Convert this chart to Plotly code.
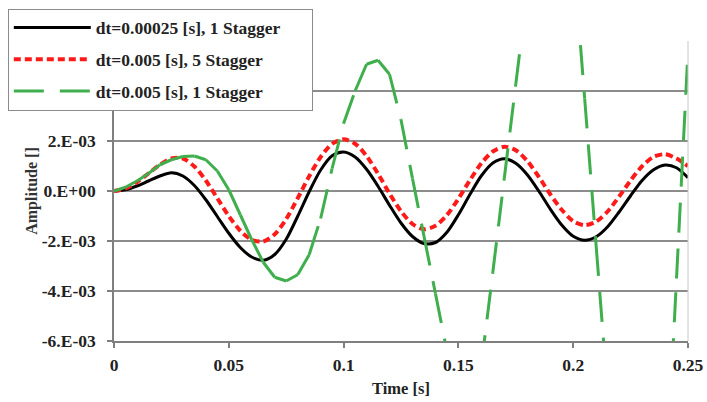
import plotly.graph_objects as go

# ---------------- data ----------------
time_s = [0.000, 0.005, 0.010, 0.015, 0.020, 0.025, 0.030, 0.035, 0.040, 0.045,
          0.050, 0.055, 0.060, 0.065, 0.070, 0.075, 0.080, 0.085, 0.090, 0.095,
          0.100, 0.105, 0.110, 0.115, 0.120, 0.125, 0.130, 0.135, 0.140, 0.145,
          0.150, 0.155, 0.160, 0.165, 0.170, 0.175, 0.180, 0.185, 0.190, 0.195,
          0.200, 0.205, 0.210, 0.215, 0.220, 0.225, 0.230, 0.235, 0.240, 0.245,
          0.250]

# dt=0.00025 [s], 1 Stagger  (values in 1e-3)
amp_fine = [0.00, 0.05, 0.20, 0.40, 0.60, 0.73, 0.60, 0.22, -0.35, -1.02,
            -1.69, -2.26, -2.64, -2.77, -2.54, -1.93, -1.01, -0.03, 0.84, 1.41,
            1.56, 1.36, 0.87, 0.19, -0.57, -1.28, -1.82, -2.10, -2.06, -1.65,
            -0.95, -0.14, 0.61, 1.12, 1.29, 1.11, 0.65, 0.00, -0.72, -1.36,
            -1.81, -1.97, -1.83, -1.43, -0.84, -0.19, 0.42, 0.85, 1.04, 0.93,
            0.53]

# dt=0.005 [s], 5 Stagger  (values in 1e-3)
amp_stag5 = [0.00, 0.10, 0.35, 0.70, 1.05, 1.30, 1.30, 0.98, 0.42, -0.29,
             -1.00, -1.59, -1.95, -2.02, -1.73, -1.12, -0.29, 0.59, 1.36, 1.89,
             2.07, 1.89, 1.40, 0.69, -0.10, -0.81, -1.32, -1.53, -1.39, -0.96,
             -0.31, 0.43, 1.11, 1.58, 1.77, 1.63, 1.20, 0.57, -0.13, -0.75,
             -1.21, -1.37, -1.22, -0.82, -0.22, 0.42, 0.99, 1.37, 1.47, 1.30,
             1.00]

# dt=0.005 [s], 1 Stagger  (values in 1e-3)
amp_stag1 = [0.00, 0.15, 0.40, 0.70, 1.05, 1.25, 1.38, 1.40, 1.25, 0.80,
             0.05, -0.95, -1.95, -2.85, -3.45, -3.60, -3.35, -2.55, -1.10, 0.90,
             2.70, 4.00, 5.07, 5.23, 4.67, 2.85, 0.50, -1.80, -4.10, -6.40,
             -8.20, -8.60, -6.96, -3.24, 0.52, 4.28, 8.00, 10.30, 11.60, 11.30,
             9.50, 3.70, -2.20, -8.10, -13.50, -17.00, -19.00, -17.50, -12.60, -3.50,
             5.60]

series_names = ["dt=0.00025 [s], 1 Stagger",
                "dt=0.005 [s], 5 Stagger",
                "dt=0.005 [s], 1 Stagger"]

x_tick_vals = [0, 0.05, 0.1, 0.15, 0.2, 0.25]
x_tick_text = ["0", "0.05", "0.1", "0.15", "0.2", "0.25"]
y_tick_vals = [-0.006, -0.004, -0.002, 0.0, 0.002, 0.004, 0.006]
y_tick_text = ["-6.E-03", "-4.E-03", "-2.E-03", "0.E+00", "2.E-03", "", ""]

SCALE = 1e-3
FONT = "Liberation Serif, Times New Roman, serif"
GREEN = "#3fae4c"

def scaled(vals):
    return [v * SCALE for v in vals]

# Excel restarts the dash pattern on every segment: draw each segment as its own subpath
seg_x, seg_y = [], []
ys1 = scaled(amp_stag1)
for i in range(len(time_s) - 1):
    seg_x += [time_s[i], time_s[i + 1], None]
    seg_y += [ys1[i], ys1[i + 1], None]

PAD = "\u00a0" * 6  # extra room at the right of the legend box, as in the reference

fig = go.Figure()
fig.add_trace(go.Scatter(
    x=time_s, y=scaled(amp_fine), mode="lines", name=series_names[0] + PAD,
    line=dict(color="#000000", width=3, shape="spline", smoothing=0.8),
    legendgroup="a"))
fig.add_trace(go.Scatter(
    x=time_s, y=scaled(amp_stag5), mode="lines", name=series_names[1],
    line=dict(color="#ff1a1a", width=4, dash="7px,4px", shape="spline", smoothing=0.8),
    legendgroup="b"))
fig.add_trace(go.Scatter(
    x=seg_x, y=seg_y, mode="lines", name=series_names[2], connectgaps=False,
    line=dict(color=GREEN, width=3, dash="30px,16px"),
    legendgroup="c"))

axis_font = dict(family=FONT, size=17.5, color="#222222", weight="bold")

fig.update_layout(
    width=707, height=402,
    margin=dict(l=114, r=19, t=41, b=61, autoexpand=False),
    paper_bgcolor="white", plot_bgcolor="white",
    font=dict(family=FONT, size=16, color="#222222", weight="bold"),
    showlegend=True,
    legend=dict(
        x=-0.185, y=1.108, xanchor="left", yanchor="top",
        bgcolor="white", bordercolor="#8c8c8c", borderwidth=1,
        font=dict(family=FONT, size=17.5, color="#222222", weight="bold"),
        tracegroupgap=6, traceorder="grouped", itemwidth=77,
    ),
    xaxis=dict(
        range=[0, 0.25], tickvals=x_tick_vals, ticktext=x_tick_text,
        showgrid=False, zeroline=False,
        showline=True, linecolor="#7f7f7f", linewidth=1.5,
        ticks="outside", ticklen=5, tickcolor="#7f7f7f", tickwidth=1.5,
        tickfont=axis_font, ticklabelstandoff=2,
        title=dict(text="Time [s]", font=dict(family=FONT, size=16.5, color="#222222", weight="bold"),
                   standoff=9),
    ),
    yaxis=dict(
        range=[-0.006, 0.006], tickvals=y_tick_vals, ticktext=y_tick_text,
        showgrid=True, gridcolor="#8c8c8c", gridwidth=1.5, zeroline=False,
        showline=True, linecolor="#7f7f7f", linewidth=1.5,
        ticks="outside", ticklen=5, tickcolor="#7f7f7f", tickwidth=1.5,
        tickfont=axis_font, ticklabelstandoff=8,
        title=dict(text="Amplitude []", font=dict(family=FONT, size=16, color="#333333", weight="bold"),
                   standoff=0),
    ),
)

# faint right-hand frame line
fig.add_shape(type="line", xref="paper", yref="paper", x0=1, x1=1, y0=0, y1=1,
              line=dict(color="#c8c8c8", width=1))

fig.write_html(
    "out.html",
    config={"displayModeBar": False},
    post_script="document.body.style.margin='0';document.body.style.overflow='hidden';",
)
